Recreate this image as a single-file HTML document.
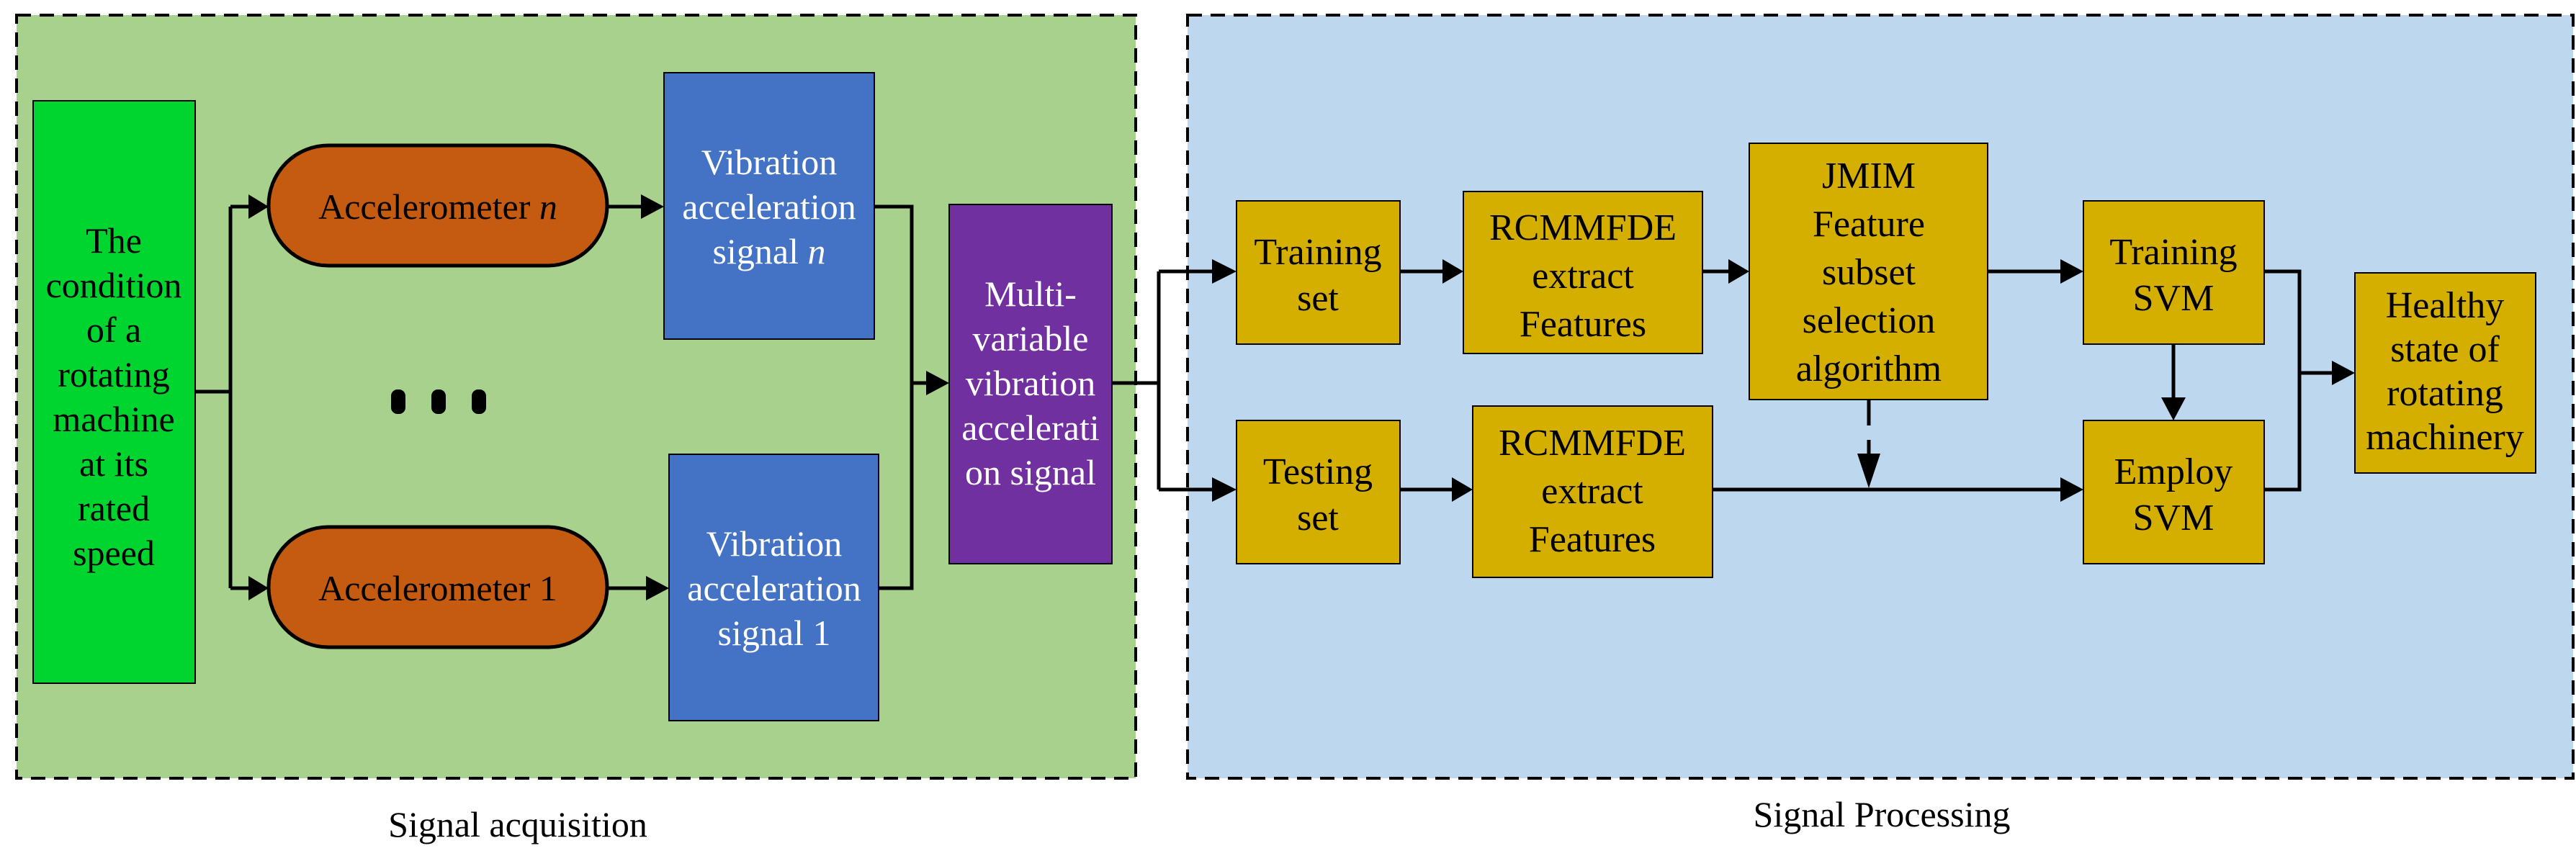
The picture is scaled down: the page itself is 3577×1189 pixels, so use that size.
<!DOCTYPE html>
<html><head><meta charset="utf-8"><style>
html,body{margin:0;padding:0;background:#fff;}
svg{display:block;}
svg text{font-family:"Liberation Serif","Times New Roman",serif !important;text-anchor:middle;}
</style></head><body>
<svg width="3577" height="1189" viewBox="0 0 3577 1189" xmlns="http://www.w3.org/2000/svg" font-family="Liberation Serif, serif">
<rect x="23" y="21" width="1554" height="1060" fill="#a9d18e" stroke="#000" stroke-width="4" stroke-dasharray="20,12"/>
<rect x="1649" y="21" width="1924" height="1060" fill="#bdd7ee" stroke="#000" stroke-width="4" stroke-dasharray="20,12"/>

<rect x="46" y="140" width="225" height="809" fill="#00d42e" stroke="#000" stroke-width="2"/>
<g font-size="50" fill="#000" font-family="Liberation Serif, serif">
<text x="158" y="351">The</text>
<text x="158" y="413">condition</text>
<text x="158" y="475">of a</text>
<text x="158" y="537">rotating</text>
<text x="158" y="599">machine</text>
<text x="158" y="661">at its</text>
<text x="158" y="723">rated</text>
<text x="158" y="785">speed</text>
</g>
<rect x="373" y="202" width="470" height="167" rx="83" fill="#c55a11" stroke="#000" stroke-width="5"/>
<rect x="373" y="732" width="470" height="167" rx="83" fill="#c55a11" stroke="#000" stroke-width="5"/>
<text x="608" y="304" font-size="50" font-family="Liberation Serif, serif">Accelerometer <tspan font-style="italic">n</tspan></text>
<text x="608" y="834" font-size="50" font-family="Liberation Serif, serif">Accelerometer 1</text>

<rect x="922" y="101" width="292" height="370" fill="#4472c4" stroke="#000" stroke-width="2"/>
<rect x="929" y="631" width="291" height="370" fill="#4472c4" stroke="#000" stroke-width="2"/>
<g font-size="50" fill="#fff" font-family="Liberation Serif, serif">
<text x="1068" y="242">Vibration</text>
<text x="1068" y="304">acceleration</text>
<text x="1068" y="366">signal <tspan font-style="italic">n</tspan></text>
<text x="1075" y="772">Vibration</text>
<text x="1075" y="834">acceleration</text>
<text x="1075" y="896">signal 1</text>
</g>
<rect x="1318" y="284" width="226" height="499" fill="#7030a0" stroke="#000" stroke-width="2"/>
<g font-size="50" fill="#fff" font-family="Liberation Serif, serif">
<text x="1431" y="425">Multi-</text>
<text x="1431" y="487">variable</text>
<text x="1431" y="549">vibration</text>
<text x="1431" y="611">accelerati</text>
<text x="1431" y="673">on signal</text>
</g>
<g fill="#000">
<rect x="543" y="541" width="20" height="34" rx="9"/>
<rect x="599" y="541" width="20" height="34" rx="9"/>
<rect x="655" y="541" width="20" height="34" rx="9"/>
</g>

<g stroke="#000" stroke-width="5" fill="none">
<polyline points="271,544 320,544"/>
<polyline points="320,287 320,817"/>
<line x1="320" y1="287" x2="345" y2="287"/>
<line x1="320" y1="817" x2="345" y2="817"/>
<line x1="843" y1="287" x2="892" y2="287"/>
<line x1="843" y1="817" x2="899" y2="817"/>
<polyline points="1214,287 1266,287 1266,817 1220,817"/>
<line x1="1266" y1="532" x2="1288" y2="532"/>
<polyline points="1544,532 1609,532"/>
<polyline points="1609,377 1609,680"/>
<line x1="1609" y1="377" x2="1685" y2="377"/>
<line x1="1609" y1="680" x2="1685" y2="680"/>
</g>
<g fill="#000">
<polygon points="345,270 373,287 345,304"/>
<polygon points="345,800 373,817 345,834"/>
<polygon points="890,270 922,287 890,304"/>
<polygon points="897,800 929,817 897,834"/>
<polygon points="1286,515 1318,532 1286,549"/>
<polygon points="1683,360 1717,377 1683,394"/>
<polygon points="1683,663 1717,680 1683,697"/>
</g>

<g fill="#d4af00" stroke="#000" stroke-width="2">
<rect x="1717" y="279" width="227" height="199"/>
<rect x="2032" y="266" width="332" height="225"/>
<rect x="2429" y="199" width="331" height="356"/>
<rect x="2893" y="279" width="251" height="199"/>
<rect x="1717" y="584" width="227" height="199"/>
<rect x="2045" y="564" width="333" height="238"/>
<rect x="2893" y="584" width="251" height="199"/>
<rect x="3270" y="379" width="251" height="278"/>
</g>
<g font-size="52" fill="#000" font-family="Liberation Serif, serif">
<text x="1830" y="367">Training</text>
<text x="1830" y="431">set</text>
<text x="2198" y="333">RCMMFDE</text>
<text x="2198" y="400">extract</text>
<text x="2198" y="467">Features</text>
<text x="2595" y="261">JMIM</text>
<text x="2595" y="328">Feature</text>
<text x="2595" y="395">subset</text>
<text x="2595" y="462">selection</text>
<text x="2595" y="529">algorithm</text>
<text x="3018" y="367">Training</text>
<text x="3018" y="431">SVM</text>
<text x="1830" y="672">Testing</text>
<text x="1830" y="736">set</text>
<text x="2211" y="632">RCMMFDE</text>
<text x="2211" y="699">extract</text>
<text x="2211" y="766">Features</text>
<text x="3018" y="672">Employ</text>
<text x="3018" y="736">SVM</text>
<text x="3395" y="441">Healthy</text>
<text x="3395" y="502">state of</text>
<text x="3395" y="563">rotating</text>
<text x="3395" y="624">machinery</text>
</g>

<g stroke="#000" stroke-width="5" fill="none">
<line x1="1944" y1="377" x2="2005" y2="377"/>
<line x1="2364" y1="377" x2="2402" y2="377"/>
<line x1="2760" y1="377" x2="2866" y2="377"/>
<line x1="1944" y1="680" x2="2018" y2="680"/>
<line x1="2378" y1="680" x2="2866" y2="680"/>
<line x1="3018" y1="478" x2="3018" y2="558"/>
<line x1="2595" y1="555" x2="2595" y2="655" stroke-dasharray="36,20"/>
<polyline points="3144,377 3193,377 3193,680 3144,680"/>
<line x1="3193" y1="518" x2="3242" y2="518"/>
</g>
<g fill="#000">
<polygon points="2003,360 2032,377 2003,394"/>
<polygon points="2400,360 2429,377 2400,394"/>
<polygon points="2861,360 2893,377 2861,394"/>
<polygon points="2016,663 2045,680 2016,697"/>
<polygon points="2861,663 2893,680 2861,697"/>
<polygon points="3001,552 3035,552 3018,584"/>
<polygon points="2579,630 2611,630 2595,678"/>
<polygon points="3238,501 3270,518 3238,535"/>
</g>

<text x="719" y="1162" font-size="50" font-family="Liberation Serif, serif">Signal acquisition</text>
<text x="2613" y="1148" font-size="50" font-family="Liberation Serif, serif">Signal Processing</text>
</svg>
</body></html>
